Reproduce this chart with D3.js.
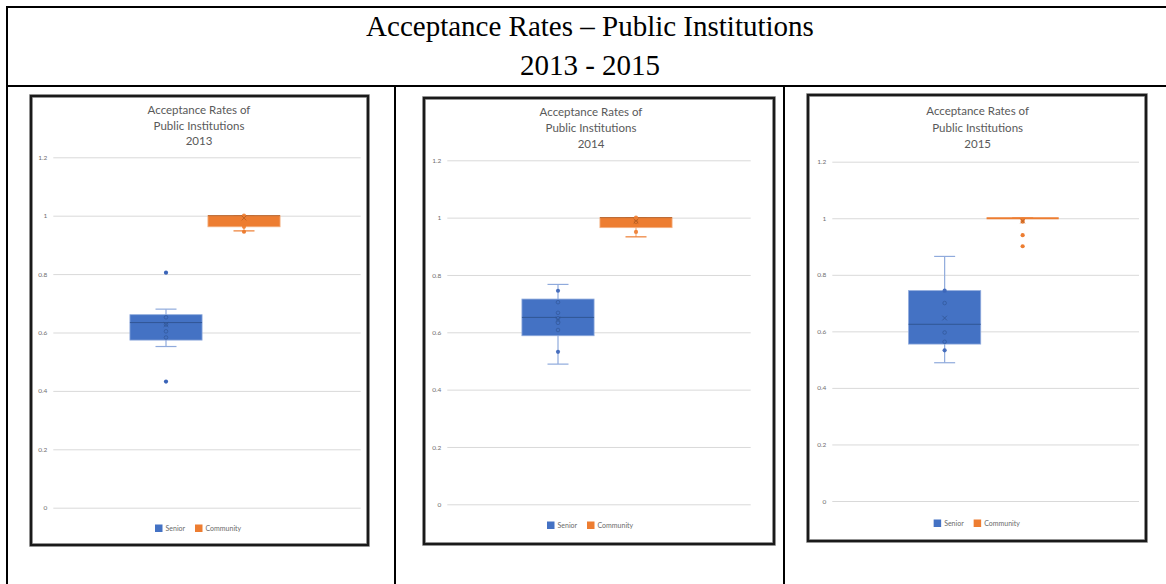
<!DOCTYPE html>
<html>
<head>
<meta charset="utf-8">
<script src="https://cdn.jsdelivr.net/npm/d3@7"></script>
<style>
  html, body { margin: 0; padding: 0; background: #fff; }
  svg { display: block; }
</style>
</head>
<body>
<svg id="chart" width="1166" height="584"></svg>
<script>
// ---------------- DATA ----------------
const pageTitle = ["Acceptance Rates \u2013 Public Institutions", "2013 - 2015"];
const chartTitle = ["Acceptance Rates of", "Public Institutions"];
const years = ["2013", "2014", "2015"];
const seriesNames = ["Senior", "Community"];
const yTicks = [0, 0.2, 0.4, 0.6, 0.8, 1, 1.2];
const yTickLabels = ["0", "0.2", "0.4", "0.6", "0.8", "1", "1.2"];

const seniorQ1 = [0.574, 0.588, 0.555];
const seniorMedian = [0.634, 0.652, 0.625];
const seniorQ3 = [0.661, 0.716, 0.744];
const seniorWhiskerLow = [0.552, 0.489, 0.489];
const seniorWhiskerHigh = [0.680, 0.767, 0.865];
const seniorMean = [0.627, 0.645, 0.647];
const seniorPoints = [
  [0.805, 0.652, 0.627, 0.604, 0.583, 0.432],
  [0.745, 0.705, 0.668, 0.649, 0.633, 0.608, 0.532],
  [0.744, 0.700, 0.596, 0.563, 0.533]
];

const communityQ1 = [0.962, 0.965, 1.0];
const communityMedian = [1.0, 1.0, 1.0];
const communityQ3 = [1.0, 1.0, 1.0];
const communityWhiskerLow = [0.948, 0.933, 1.0];
const communityWhiskerHigh = [1.0, 1.0, 1.0];
const communityMean = [0.992, 0.988, 0.990];
const communityPoints = [
  [1.0, 0.962, 0.945],
  [1.0, 0.985, 0.950],
  [0.995, 0.988, 0.940, 0.901]
];

// ---------------- LAYOUT / STYLE ----------------
const colors = { Senior: "#4472C4", Community: "#ED7D31" };
const darker = { Senior: "#2F528F", Community: "#AE5A21" };
const lighter = { Senior: "#8FAADC", Community: "#F4B183" };

const panels = [
  { fx: 31, fy: 96, fw: 337, fh: 449, pl: 53.3, pr: 360.7, pt: 157.3, pb: 507.7, ty: [110, 126, 141], ly: 528 },
  { fx: 424, fy: 98, fw: 350, fh: 446, pl: 447.3, pr: 750.7, pt: 160.3, pb: 504.3, ty: [112, 128, 144], ly: 525 },
  { fx: 808, fy: 95, fw: 338, fh: 446, pl: 832.3, pr: 1139, pt: 161.7, pb: 501, ty: [111, 128, 144], ly: 523 }
];

const svg = d3.select("#chart");

// ---------- outer table ----------
const table = svg.append("g").attr("stroke", "#000").attr("stroke-width", 2);
table.append("line").attr("x1", 6).attr("x2", 1166).attr("y1", 7).attr("y2", 7);
table.append("line").attr("x1", 7).attr("x2", 7).attr("y1", 6).attr("y2", 584);
table.append("line").attr("x1", 6).attr("x2", 1166).attr("y1", 86).attr("y2", 86);
table.append("line").attr("x1", 395).attr("x2", 395).attr("y1", 86).attr("y2", 584);
table.append("line").attr("x1", 784).attr("x2", 784).attr("y1", 86).attr("y2", 584);

svg.append("g").selectAll("text").data(pageTitle).join("text")
  .attr("x", 590)
  .attr("y", (d, i) => [36, 75][i])
  .attr("text-anchor", "middle")
  .attr("font-family", "'Liberation Serif', 'Times New Roman', serif")
  .attr("font-size", 29)
  .attr("fill", "#000")
  .text(d => d);

// ---------- panels ----------
const stats = {
  Senior: { q1: seniorQ1, med: seniorMedian, q3: seniorQ3, lo: seniorWhiskerLow, hi: seniorWhiskerHigh, mean: seniorMean, pts: seniorPoints },
  Community: { q1: communityQ1, med: communityMedian, q3: communityQ3, lo: communityWhiskerLow, hi: communityWhiskerHigh, mean: communityMean, pts: communityPoints }
};

years.forEach((yr, i) => {
  const P = panels[i];
  const g = svg.append("g");

  // frame with soft halo
  g.append("rect").attr("x", P.fx).attr("y", P.fy).attr("width", P.fw).attr("height", P.fh)
    .attr("fill", "#fff").attr("stroke", "#8a8a8a").attr("stroke-width", 3.6);
  g.append("rect").attr("x", P.fx).attr("y", P.fy).attr("width", P.fw).attr("height", P.fh)
    .attr("fill", "none").attr("stroke", "#1a1a1a").attr("stroke-width", 2.2);

  // title
  g.selectAll("text.title").data(chartTitle.concat([yr])).join("text")
    .attr("class", "title")
    .attr("x", (P.pl + P.pr) / 2 - 8)
    .attr("y", (d, k) => P.ty[k] + 4)
    .attr("text-anchor", "middle")
    .attr("font-family", "Lato, 'Open Sans', sans-serif")
    .attr("font-size", 11.5)
    .attr("fill", "#595959")
    .text(d => d);

  const y = d3.scaleLinear().domain([0, 1.2]).range([P.pb, P.pt]);
  const cx = (P.pl + P.pr) / 2;
  const x = d3.scaleBand().domain(seriesNames).range([cx - 80, cx + 76]).padding(0);
  const boxW = x.bandwidth() * 0.925;
  const capW = 21;

  // gridlines + tick labels
  const axis = d3.axisLeft(y).tickValues(yTicks)
    .tickFormat((d, k) => yTickLabels[k])
    .tickSize(-(P.pr - P.pl)).tickPadding(6);
  const ax = g.append("g").attr("transform", `translate(${P.pl},0)`).call(axis);
  ax.select(".domain").remove();
  ax.selectAll(".tick line").attr("stroke", "#d9d9d9").attr("stroke-width", 1);
  ax.selectAll(".tick text").attr("fill", "#6f6f6f").attr("font-size", 6.5)
    .attr("font-family", "Lato, 'Open Sans', sans-serif");

  // boxes
  seriesNames.forEach(s => {
    const st = stats[s];
    const c = x(s) + x.bandwidth() / 2;
    const col = colors[s];
    const bg = g.append("g");
    // whisker stem
    bg.append("line").attr("x1", c).attr("x2", c)
      .attr("y1", y(st.lo[i])).attr("y2", y(st.hi[i]))
      .attr("stroke", lighter[s]).attr("stroke-width", 1.2);
    // caps
    [st.lo[i], st.hi[i]].forEach(v => {
      bg.append("line").attr("x1", c - capW / 2).attr("x2", c + capW / 2)
        .attr("y1", y(v)).attr("y2", y(v))
        .attr("stroke", s === "Senior" ? lighter[s] : col).attr("stroke-width", 1.2);
    });
    // box
    const top = y(st.q3[i]), bot = y(st.q1[i]);
    if (bot - top > 0.5) {
      bg.append("rect").attr("x", c - boxW / 2).attr("y", top)
        .attr("width", boxW).attr("height", bot - top)
        .attr("fill", col).attr("stroke", lighter[s]).attr("stroke-width", 0.8);
      bg.append("line").attr("x1", c - boxW / 2).attr("x2", c + boxW / 2)
        .attr("y1", y(st.med[i])).attr("y2", y(st.med[i]))
        .attr("stroke", darker[s]).attr("stroke-width", 0.9);
    } else {
      bg.append("line").attr("x1", c - boxW / 2).attr("x2", c + boxW / 2)
        .attr("y1", y(st.med[i])).attr("y2", y(st.med[i]))
        .attr("stroke", col).attr("stroke-width", 1.8);
    }
    // points
    st.pts[i].forEach(v => {
      const outside = v < st.lo[i] - 1e-9 || v > st.hi[i] + 1e-9;
      const inside = v > st.q1[i] + 1e-9 && v < st.q3[i] - 1e-9;
      bg.append("circle").attr("cx", c).attr("cy", y(v)).attr("r", inside ? 1.8 : 2.1)
        .attr("fill", inside ? col : (s === "Senior" ? "#3a64b8" : col))
        .attr("stroke", inside ? darker[s] : "none")
        .attr("stroke-width", inside ? 0.6 : 0)
        .attr("opacity", outside ? 1 : 0.9);
    });
    // mean marker (x)
    const my = y(st.mean[i]), m = 2.3;
    bg.append("path")
      .attr("d", `M${c - m},${my - m}L${c + m},${my + m}M${c - m},${my + m}L${c + m},${my - m}`)
      .attr("stroke", darker[s]).attr("stroke-width", 0.9).attr("opacity", 0.8);
  });

  // legend
  const lg = g.append("g");
  const lx0 = cx - 52;
  const legendPos = { Senior: lx0, Community: lx0 + 40 };
  seriesNames.forEach(s => {
    lg.append("rect").attr("x", legendPos[s]).attr("y", P.ly - 3.5)
      .attr("width", 7.5).attr("height", 7.5).attr("fill", colors[s]);
    lg.append("text").attr("x", legendPos[s] + 10.5).attr("y", P.ly + 2.5)
      .attr("font-family", "Lato, 'Open Sans', sans-serif")
      .attr("font-size", 7).attr("fill", "#6a6a6a").text(s);
  });
});
</script>
</body>
</html>
